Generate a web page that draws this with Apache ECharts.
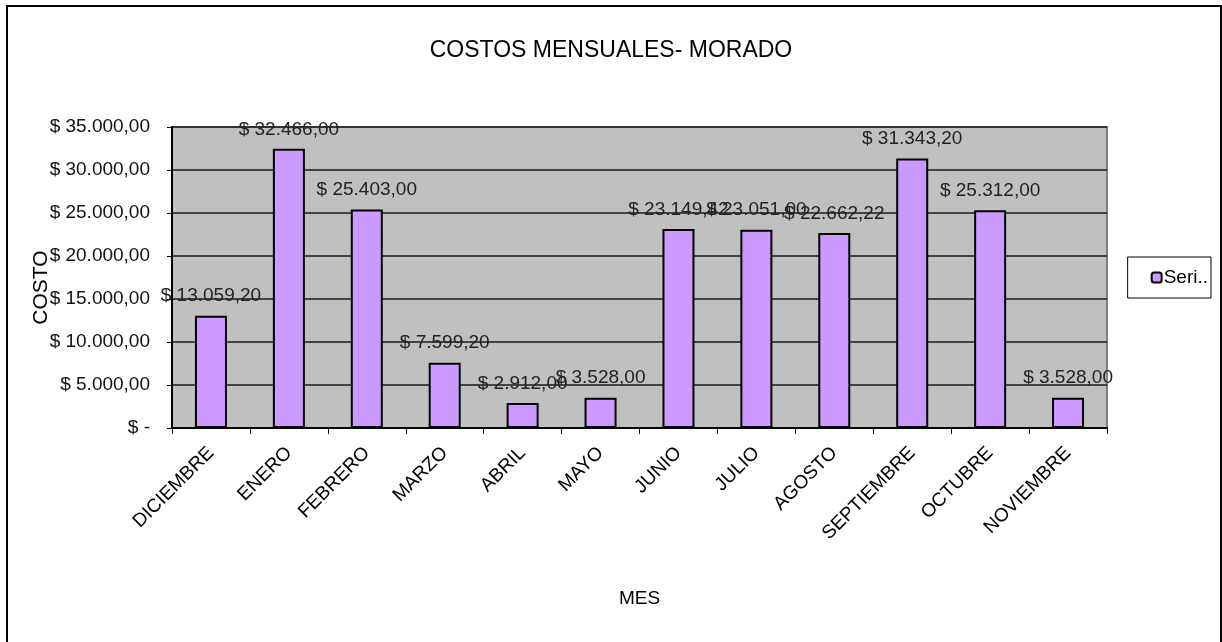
<!DOCTYPE html>
<html>
<head>
<meta charset="utf-8">
<script src="https://cdn.jsdelivr.net/npm/echarts@6/dist/echarts.min.js"></script>
<style>
    html, body { margin: 0; padding: 0; background: #fff; }
    #chart { width: 1222px; height: 642px; }
    #frame { position: absolute; left: 6px; top: 5px; width: 1212px; height: 650px; border: 2px solid #000; pointer-events: none; }
</style>
</head>
<body>
<div id="chart"></div>
<div id="frame"></div>
<script>
    // datos
    var meses = ['DICIEMBRE', 'ENERO', 'FEBRERO', 'MARZO', 'ABRIL', 'MAYO', 'JUNIO', 'JULIO', 'AGOSTO', 'SEPTIEMBRE', 'OCTUBRE', 'NOVIEMBRE'];
    var costos = [13059.20, 32466.00, 25403.00, 7599.20, 2912.00, 3528.00, 23149.42, 23051.00, 22662.22, 31343.20, 25312.00, 3528.00];
    var ticksY = [0, 5000, 10000, 15000, 20000, 25000, 30000, 35000];

    // formato moneda "$ 13.059,20"
    function moneda(v) {
        if (v === 0) return '$ -';
        var partes = v.toFixed(2).split('.');
        var entero = partes[0].replace(/\B(?=(\d{3})+(?!\d))/g, '.');
        return '$ ' + entero + ',' + partes[1];
    }

    var fuente = 'Liberation Sans, Arial, sans-serif';
    var chart = echarts.init(document.getElementById('chart'));
    chart.setOption({
        animation: false,
        title: {
            text: 'COSTOS MENSUALES- MORADO',
            left: 'center',
            top: 34,
            textStyle: { fontFamily: fuente, fontSize: 23, fontWeight: 'normal', color: '#000' }
        },
        legend: {
            right: 11,
            top: 257,
            orient: 'vertical',
            padding: [11, 3, 11, 23],
            borderColor: '#000',
            borderWidth: 1,
            itemWidth: 10,
            itemHeight: 10,
            formatter: function () { return 'Seri..'; },
            textStyle: { fontFamily: fuente, fontSize: 19, color: '#000', padding: [0, 0, 0, -3] }
        },
        grid: {
            left: 172,
            right: 115,
            top: 127,
            bottom: 214,
            show: true,
            backgroundColor: '#C0C0C0',
            borderColor: '#808080',
            borderWidth: 2
        },
        xAxis: {
            type: 'category',
            data: meses,
            name: 'MES',
            nameLocation: 'middle',
            nameGap: 161,
            nameMoveOverlap: false,
            nameTextStyle: { fontFamily: fuente, fontSize: 19, color: '#000' },
            axisLine: { lineStyle: { color: '#000', width: 2 } },
            axisTick: { show: true, length: 6, lineStyle: { color: '#000' } },
            axisLabel: { rotate: 45, fontFamily: fuente, fontSize: 19, color: '#000', margin: 22, interval: 0 }
        },
        yAxis: {
            type: 'value',
            min: 0,
            max: 35000,
            interval: 5000,
            name: 'COSTO',
            nameLocation: 'middle',
            nameGap: 120,
            nameMoveOverlap: false,
            nameTextStyle: { fontFamily: fuente, fontSize: 21, color: '#000', padding: [0, 20, 0, 0] },
            axisLine: { show: true, lineStyle: { color: '#000', width: 2 } },
            axisTick: { show: true, length: 5, lineStyle: { color: '#000' } },
            splitLine: { lineStyle: { color: '#1a1a1a', width: 1.5 } },
            axisLabel: {
                fontFamily: fuente, fontSize: 19, color: '#111', margin: 22,
                formatter: function (v) { return ticksY.indexOf(v) >= 0 ? moneda(v) : ''; }
            }
        },
        series: [{
            name: 'Serie1',
            type: 'bar',
            data: costos,
            barWidth: 32,
            itemStyle: { color: '#CC99FF', borderColor: '#000', borderWidth: 2 },
            label: {
                show: true,
                position: 'top',
                distance: 10,
                fontFamily: fuente,
                fontSize: 19,
                color: '#222',
                formatter: function (p) { return moneda(p.value); }
            }
        }]
    });
</script>
</body>
</html>
